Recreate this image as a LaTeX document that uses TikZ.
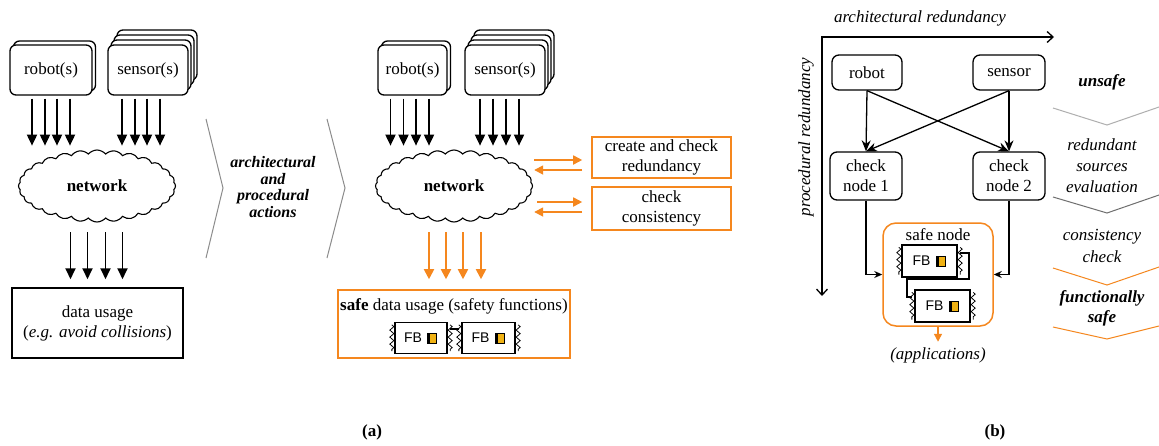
\documentclass[tikz,border=0pt]{standalone}
\usepackage{fontspec}
\setmainfont{Liberation Serif}
\newfontfamily\fbfont{Liberation Sans}
\usetikzlibrary{shapes.symbols,arrows.meta,decorations.pathmorphing}

\definecolor{org}{RGB}{245,135,30}
\definecolor{chipc}{RGB}{240,178,20}
\definecolor{chevl}{RGB}{175,175,175}
\definecolor{chevd}{RGB}{110,110,110}

\tikzset{
  txt/.style={font=\fontsize{17}{20}\selectfont, inner sep=0pt, align=center},
  stk/.style={draw, fill=white, rounded corners=6pt, line width=1.3pt, minimum height=50pt, inner sep=0pt},
  netcloud/.style={cloud, draw, cloud puffs=28, cloud puff arc=100, aspect=2.3,
    minimum width=157pt, minimum height=72pt, line width=1.1pt, inner sep=0pt},
  arr/.style={line width=1.8pt, -{Triangle[length=11pt,width=10pt]}},
  oarr/.style={line width=1.8pt, color=org, -{Triangle[length=10pt,width=10pt]}},
  osarr/.style={line width=1.7pt, color=org, -{Triangle[length=9pt,width=9pt]}},
  obox/.style={draw=org, line width=1.6pt, inner sep=0pt},
  rbox/.style={draw, rounded corners=7pt, line width=1.3pt, minimum width=71pt, inner sep=0pt},
  barr/.style={line width=1.3pt, -{Stealth[length=11pt,width=9pt]}},
  sarr/.style={line width=1.3pt, -{Stealth[length=8pt,width=7pt]}},
  chev/.style={line width=1pt},
  fbbox/.style={draw, fill=white, line width=1.3pt, minimum height=31pt, inner sep=0pt},
  pin/.style={decorate, decoration={zigzag, amplitude=2pt, segment length=7pt}, line width=0.8pt},
  chipn/.style={draw=black, fill=chipc, line width=0.9pt, minimum width=9pt, minimum height=10pt, inner sep=0pt},
  wire/.style={line width=1.3pt},
}

\begin{document}
\begin{tikzpicture}[x=1pt,y=-1pt]
\useasboundingbox (0,0) rectangle (1159,445);
\fill[white] (0,0) rectangle (1159,445);

% ---------- panel (a), left: plain data flow ----------
\node[stk, minimum width=82pt] (robAb) at (54.5,66) {};
\node[stk, minimum width=82pt, txt] (robA) at (51,70) {robot(s)};
\foreach \k in {3,2,1}
  \node[stk, minimum width=80pt] (senAb\k) at ({148+3*\k},{70-5*\k}) {};
\node[stk, minimum width=80pt, txt] (senA) at (148,70) {sensor(s)};

\node[netcloud, txt] (netA) at (97,186) {\textbf{network}};

\foreach \d in {-19,-6,6,19}
  \draw[arr] ([xshift=\d pt,yshift=-3pt]robA.south) -- ++(0,47);
\foreach \d in {-26,-13,-1,12}
  \draw[arr] ([xshift=\d pt,yshift=-3pt]senA.south) -- ++(0,47);

\node[draw, line width=1.5pt, minimum width=171pt, minimum height=70pt, txt] (useA) at (97.5,323)
  {data usage\\(\textit{e.g. avoid collisions})};

\foreach \d in {-27,-10,8,25}
  \draw[arr] ([xshift=\d pt]useA.north) ++(0,-55) -- ++(0,47);

% ---------- transition chevrons ----------
\draw[chev, chevl!80!black] (206,119) -- (223,188) -- (206,258);
\draw[chev, chevl!80!black] (327,119) -- (345,188) -- (327,258);
\node[txt, font=\fontsize{16}{16.7}\selectfont\bfseries\itshape] (act) at (273,187)
  {architectural\\and\\procedural\\actions};

% ---------- panel (a), middle: safe data flow ----------
\node[stk, minimum width=69pt] (robBb) at (416,66) {};
\node[stk, minimum width=69pt, txt] (robB) at (412.5,70) {robot(s)};
\foreach \k in {3,2,1}
  \node[stk, minimum width=80pt] (senBb\k) at ({505+3*\k},{70-5*\k}) {};
\node[stk, minimum width=80pt, txt] (senB) at (505,70) {sensor(s)};

\node[netcloud, txt] (netB) at (454,186) {\textbf{network}};

\foreach \d in {-22,-9,3.5,16.5}
  \draw[arr] ([xshift=\d pt,yshift=-3pt]robB.south) -- ++(0,47);
\foreach \d in {-25,-12,1,14}
  \draw[arr] ([xshift=\d pt,yshift=-3pt]senB.south) -- ++(0,47);

\node[obox, minimum width=139pt, minimum height=41pt, txt] (redB) at (661.5,157.5)
  {create and check\\redundancy};
\node[obox, minimum width=139pt, minimum height=43pt, txt] (conB) at (661.5,208.5)
  {check\\consistency};

\draw[osarr] ([xshift=-57pt,yshift=-2.5pt]redB.west) -- ([xshift=-9pt,yshift=-2.5pt]redB.west);
\draw[osarr] ([xshift=-9pt,yshift=-12.5pt]redB.west) -- ([xshift=-57pt,yshift=-12.5pt]redB.west);
\draw[osarr] ([xshift=-54pt,yshift=6.5pt]conB.west) -- ([xshift=-9pt,yshift=6.5pt]conB.west);
\draw[osarr] ([xshift=-9pt,yshift=-3.5pt]conB.west) -- ([xshift=-57pt,yshift=-3.5pt]conB.west);

\node[obox, minimum width=232pt, minimum height=68pt] (useB) at (454,324) {};
\node[txt] (useBt) at (454,306) {\textbf{safe} data usage (safety functions)};

\foreach \d in {-25,-8,9,27}
  \draw[oarr] ([xshift=\d pt]useB.north) ++(0,-57) -- ++(0,47);

\node[fbbox, minimum width=52pt] (fb1) at (421,338) {};
\node[fbbox, minimum width=53pt] (fb2) at (488.5,338) {};
\draw[wire] ([xshift=2pt,yshift=9pt]fb1.east) -- ([xshift=-2pt,yshift=9pt]fb2.west);

% ---------- panel (b): redundancy scheme ----------
\node[txt, font=\fontsize{17}{20}\selectfont\itshape] (archlab) at (920,18) {architectural redundancy};
\node[txt, font=\fontsize{17}{20}\selectfont\itshape, rotate=90] (proclab) at (806,137) {procedural redundancy};
\coordinate (axo) at (822,37);
\coordinate (axh) at (1054,37);
\coordinate (axv) at (822,296);
\draw[line width=1.3pt, {Straight Barb[length=6pt,width=11pt]}-{Straight Barb[length=6pt,width=11pt]}]
  (axh) -- (axo) -- (axv);

\node[rbox, minimum width=70pt, minimum height=35pt, txt] (rob) at (867,72.5) {robot};
\node[rbox, minimum width=72pt, minimum height=35pt, txt] (sen) at (1009,72.5) {sensor};
\node[rbox, minimum width=72pt, minimum height=48pt, txt] (cn1) at (866,176) {check\\node 1};
\node[rbox, minimum width=72pt, minimum height=48pt, txt] (cn2) at (1009,176) {check\\node 2};

\draw[barr] (rob.south) -- (cn1.north);
\draw[barr] (rob.south) -- (cn2.north);
\draw[barr] (sen.south) -- (cn2.north);
\draw[barr] (sen.south) -- (cn1.north);

\node[draw=org, line width=1.5pt, rounded corners=13pt, minimum width=110pt, minimum height=103pt, inner sep=0pt]
  (safe) at (938,274.5) {};
\node[txt] (safet) at (938,235) {safe node};

\draw[sarr] (cn1.south) |- (safe.west);
\draw[sarr] (cn2.south) |- (safe.east);

\node[fbbox, minimum width=55pt, minimum height=32pt] (fb3) at (929.5,261) {};
\node[fbbox, minimum width=55pt, minimum height=32pt] (fb4) at (942.5,306) {};
\draw[wire] ([xshift=2pt,yshift=8pt]fb3.east) -| (969,279) -| (907,297) -- ([xshift=-2pt,yshift=9pt]fb4.west);

\draw[line width=1.4pt, org, -{Triangle[length=8pt,width=8pt]}] (safe.south) -- ++(0,15);
\node[txt, font=\fontsize{17}{20}\selectfont\itshape] (appl) at (938,355) {(applications)};

% FB block details: pins, label and chip icon
\foreach \n in {fb1,fb2,fb3,fb4} {
  \draw[pin] ([xshift=-2.5pt,yshift=-3pt]\n.north west) -- ([xshift=-2.5pt,yshift=3pt]\n.south west);
  \draw[pin] ([xshift=2.5pt,yshift=-3pt]\n.north east) -- ([xshift=2.5pt,yshift=3pt]\n.south east);
  \node[inner sep=0pt, font=\fbfont\fontsize{14}{14}\selectfont] (\n t) at ([xshift=-8pt]\n.center) {FB};
  \node[chipn] (\n c) at ([xshift=11pt]\n.center) {};
  \fill (\n c.north west) rectangle ([xshift=3pt]\n c.south west);
}

% safety level chevrons
\draw[chev, chevl] (1053,108) -- (1107,125) -- (1159,107);
\draw[chev, chevd] (1053,197) -- (1107,213) -- (1159,195);
\draw[chev, org] (1053,268) -- (1107,285) -- (1159,267);
\draw[chev, org] (1053,327) -- (1107,339) -- (1159,326);
\node[txt, font=\fontsize{17}{20}\selectfont\bfseries\itshape] (lv1) at (1102,82) {unsafe};
\node[txt, font=\fontsize{17}{21}\selectfont\itshape] (lv2) at (1102,166) {redundant\\sources\\evaluation};
\node[txt, font=\fontsize{17}{22}\selectfont\itshape] (lv3) at (1102,246) {consistency\\check};
\node[txt, font=\fontsize{17}{20}\selectfont\bfseries\itshape] (lv4) at (1102,308) {functionally\\safe};

% sub-figure captions
\node[txt, font=\fontsize{17}{20}\selectfont\bfseries] (capa) at (372,432) {(a)};
\node[txt, font=\fontsize{17}{20}\selectfont\bfseries] (capb) at (995,432) {(b)};
\end{tikzpicture}
\end{document}
